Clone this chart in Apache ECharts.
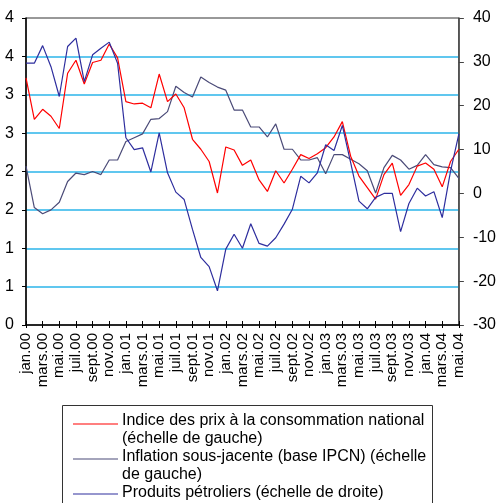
<!DOCTYPE html>
<html>
<head>
<meta charset="utf-8">
<script src="https://cdn.jsdelivr.net/npm/echarts@6/dist/echarts.min.js"></script>
<style>
html,body{margin:0;padding:0;background:#fff;}
#chart{width:499px;height:503px;}
</style>
</head>
<body>
<div id="chart"></div>
<script>
var months = ["jan.00","févr.00","mars.00","avr.00","mai.00","juin.00","juil.00","août.00","sept.00","oct.00","nov.00","déc.00",
"jan.01","févr.01","mars.01","avr.01","mai.01","juin.01","juil.01","août.01","sept.01","oct.01","nov.01","déc.01",
"jan.02","févr.02","mars.02","avr.02","mai.02","juin.02","juil.02","août.02","sept.02","oct.02","nov.02","déc.02",
"jan.03","févr.03","mars.03","avr.03","mai.03","juin.03","juil.03","août.03","sept.03","oct.03","nov.03","déc.03",
"jan.04","févr.04","mars.04","avr.04","mai.04"];

var ipcn = [3.22,2.68,2.81,2.72,2.56,3.28,3.45,3.14,3.42,3.45,3.66,3.48,
2.91,2.88,2.89,2.83,3.27,2.91,3.01,2.83,2.42,2.29,2.13,1.72,
2.32,2.28,2.08,2.15,1.89,1.74,2.01,1.85,2.03,2.22,2.17,2.23,
2.31,2.45,2.65,2.20,1.94,1.79,1.64,1.96,2.11,1.69,1.83,2.07,
2.11,2.03,1.80,2.13,2.29];

var core = [2.07,1.53,1.45,1.50,1.60,1.87,1.98,1.96,2.00,1.96,2.15,2.15,
2.39,2.44,2.49,2.68,2.69,2.78,3.11,3.03,2.97,3.23,3.16,3.10,
3.06,2.80,2.80,2.58,2.58,2.45,2.62,2.29,2.29,2.15,2.15,2.18,
1.97,2.22,2.22,2.16,2.10,2.01,1.72,2.05,2.21,2.15,2.03,2.08,
2.22,2.09,2.06,2.05,1.91];

var petrol = [29.7,29.7,33.7,28.9,22.1,33.5,35.4,25.5,31.6,33.1,34.5,29.7,
12.7,10.0,10.4,4.9,13.8,4.7,0.3,-1.4,-8.2,-14.6,-16.7,-22.2,
-12.7,-9.3,-12.5,-6.9,-11.4,-12.0,-10.1,-7.0,-3.6,3.9,2.4,4.7,
11.1,9.8,15.5,7.0,-1.75,-3.5,-0.9,0.0,0.0,-8.7,-2.3,1.2,
-0.6,0.4,-5.5,5.1,13.6];

var leftTickLabels = ["0","1","1","2","2","3","3","4","4"];
var seriesNames = ["Indice des prix à la consommation national (échelle de gauche)",
"Inflation sous-jacente (base IPCN) (échelle de gauche)",
"Produits pétroliers (échelle de droite)"];
var legendLines = ["Indice des prix à la consommation national\n(échelle de gauche)",
"Inflation sous-jacente (base IPCN) (échelle\nde gauche)",
"Produits pétroliers (échelle de droite)"];
var colors = ["#ff0000","#4b4b78","#2e2e9e"];

var FONT = "'Liberation Sans', Arial, sans-serif";
var chart = echarts.init(document.getElementById('chart'), null, {renderer:'canvas'});

var option = {
  animation:false,
  backgroundColor:'#fff',
  grid:{left:26,right:37,top:18,bottom:178,show:true,borderColor:'#333',borderWidth:1,backgroundColor:'transparent'},
  xAxis:[
    {type:'category',data:months,boundaryGap:false,
     axisLine:{show:true,onZero:false,lineStyle:{color:'#000',width:1.5}},
     axisTick:{show:true,interval:1,length:3,lineStyle:{color:'#000',width:1}},
     axisLabel:{interval:1,rotate:90,fontSize:15,fontFamily:FONT,color:'#000',margin:8},
     splitLine:{show:false}},
    {type:'category',data:months,boundaryGap:false,position:'bottom',
     axisLine:{show:false,onZero:false},
     axisTick:{show:true,inside:true,interval:1,length:4,lineStyle:{color:'#000',width:1}},
     axisLabel:{show:false},splitLine:{show:false}}
  ],
  yAxis:[
    {type:'value',min:0,max:4,interval:0.5,position:'left',
     axisLine:{show:true,onZero:false,lineStyle:{color:'#000',width:1.5}},
     axisTick:{show:true,length:4,lineStyle:{color:'#000'}},
     axisLabel:{fontSize:16,fontFamily:FONT,color:'#000',margin:12,
       formatter:function(v){return leftTickLabels[Math.round(v/0.5)];}},
     splitLine:{show:true,showMinLine:false,showMaxLine:false,lineStyle:{color:'#2bb5ea',width:1.5}}},
    {type:'value',min:-30,max:40,interval:10,position:'right',
     axisLine:{show:true,onZero:false,lineStyle:{color:'#444',width:1.5}},
     axisTick:{show:true,length:5,lineStyle:{color:'#444'}},
     axisLabel:{fontSize:16,fontFamily:FONT,color:'#000',margin:14},
     splitLine:{show:false}}
  ],
  series:[
    {name:seriesNames[0],type:'line',data:ipcn,yAxisIndex:0,showSymbol:false,
     lineStyle:{color:colors[0],width:1.2},itemStyle:{color:colors[0]},z:3},
    {name:seriesNames[1],type:'line',data:core,yAxisIndex:0,showSymbol:false,
     lineStyle:{color:colors[1],width:1.2},itemStyle:{color:colors[1]},z:2},
    {name:seriesNames[2],type:'line',data:petrol,yAxisIndex:1,showSymbol:false,
     lineStyle:{color:colors[2],width:1.2},itemStyle:{color:colors[2]},z:4}
  ],
  graphic:[
    {type:'rect',left:62,top:405,shape:{width:370,height:110},style:{fill:'#fff',stroke:'#333',lineWidth:1},z:10},
    {type:'line',shape:{x1:73,y1:424,x2:118,y2:424},style:{stroke:colors[0],lineWidth:1.2},z:11},
    {type:'text',left:122,top:412,style:{text:legendLines[0],font:'16px '+FONT,fill:'#000',lineHeight:18},z:11},
    {type:'line',shape:{x1:73,y1:459,x2:118,y2:459},style:{stroke:colors[1],lineWidth:1.2},z:11},
    {type:'text',left:122,top:448,style:{text:legendLines[1],font:'16px '+FONT,fill:'#000',lineHeight:18},z:11},
    {type:'line',shape:{x1:73,y1:494,x2:118,y2:494},style:{stroke:colors[2],lineWidth:1.2},z:11},
    {type:'text',left:122,top:484,style:{text:legendLines[2],font:'16px '+FONT,fill:'#000',lineHeight:18},z:11}
  ]
};
chart.setOption(option);
</script>
</body>
</html>
